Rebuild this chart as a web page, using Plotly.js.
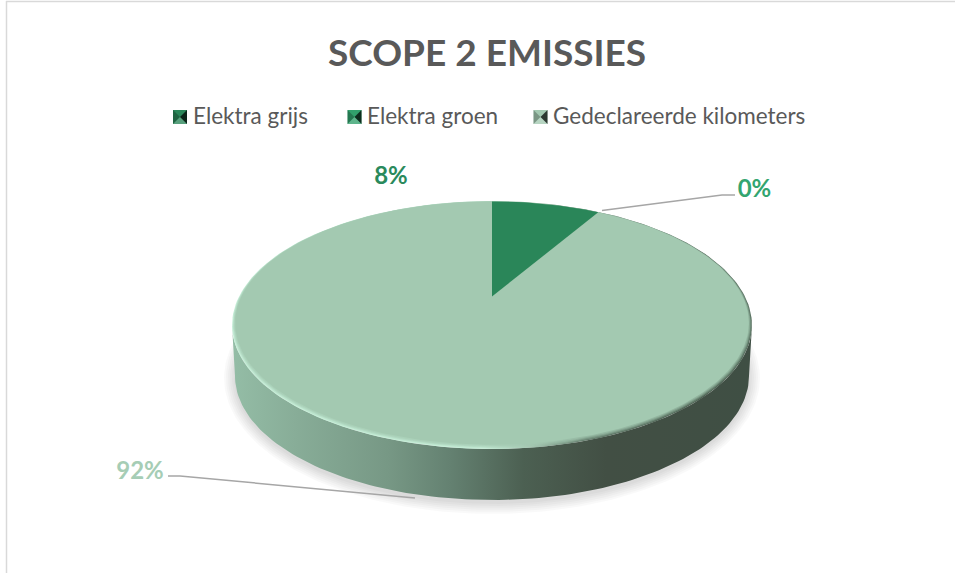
<!DOCTYPE html>
<html><head><meta charset="utf-8">
<script src="https://cdn.plot.ly/plotly-3.0.1.min.js"></script>
<style>html,body{margin:0;padding:0;background:#fff}#c{width:955px;height:573px}</style>
</head><body><div id="c"></div>
<script>
const categories = ["Elektra grijs", "Elektra groen", "Gedeclareerde kilometers"];
const shares = [8.4, 0, 91.6];
const sliceColors = ["#2a8659", "#31a06c", "#a3c9b1"];
const labelColors = ["#2a8a5c", "#33a56f", "#a6cdb5"];
const titleText = "SCOPE 2 EMISSIES";
const FONT = "Lato, Carlito, Calibri, sans-serif";

// Tilted disc: perspective projection of a unit circle
const CX = 492, CY = 325, RY = 124, K = -0.218, CS = -27, AX = 253.7;
function project(theta, sx, sy, dy) {
  const u = Math.sin(theta), v = -Math.cos(theta);
  const w = 1 + K * v;
  return [CX + sx * AX * u / w, CY + dy + sy * (RY * v + CS) / w];
}
function ring(sx, sy, dy) {
  const xs = [], ys = [];
  for (let i = 0; i <= 240; i++) {
    const p = project(i / 240 * 2 * Math.PI, sx, sy, dy);
    xs.push(p[0]); ys.push(p[1]);
  }
  return {x: xs, y: ys};
}
function ellipse(cx, cy, rx, ry) {
  const xs = [], ys = [];
  for (let i = 0; i <= 240; i++) {
    const t = i / 240 * 2 * Math.PI;
    xs.push(cx + rx * Math.cos(t)); ys.push(cy + ry * Math.sin(t));
  }
  return {x: xs, y: ys};
}
const fillTrace = (g, color, name) => ({
  x: g.x, y: g.y, mode: "lines", fill: "toself", fillcolor: color,
  line: {width: 0, color: "rgba(0,0,0,0)"}, hoverinfo: "skip", showlegend: false, name: name || ""
});

const traces = [];

// soft shadow
[11, 9, 7, 5, 3, 1].forEach(k => traces.push(fillTrace(ellipse(492, 378, 257 + k, 125 + k), "rgba(0,0,0,0.022)", "shadow")));

// side wall with horizontal light falloff
(function () {
  const xs = [], ys = [];
  for (let i = 0; i <= 120; i++) {
    const t = Math.PI - i / 120 * Math.PI;
    xs.push(492 + 260 * Math.cos(t)); ys.push(325 + 124 * Math.sin(t));
  }
  for (let i = 0; i <= 120; i++) {
    const t = i / 120 * Math.PI;
    xs.push(492 + 257 * Math.cos(t)); ys.push(376 + 124 * Math.sin(t));
  }
  const tr = fillTrace({x: xs, y: ys}, "#6d8c7b", "side");
  tr.fillgradient = {type: "horizontal", colorscale: [
    [0, "#94bda6"], [0.12, "#88ad98"], [0.3, "#779885"], [0.42, "#648171"],
    [0.56, "#4c6052"], [0.72, "#424f44"], [1, "#3f4f44"]]};
  traces.push(tr);
})();

// bevel on the rim of the top face
(function () {
  const tr = fillTrace(ring(1, 1, 0), "#bfe5cf", "rim");
  tr.fillgradient = {type: "horizontal", colorscale: [
    [0, "#c6eed8"], [0.48, "#c6eed8"], [0.58, "#a3c4b0"], [0.68, "#647d6d"], [0.9, "#4a5e50"], [1, "#566e5e"]]};
  traces.push(tr);
})();
traces.push(fillTrace(ring(0.997, 0.996, -0.5), "rgba(163,201,177,0.3)", "rim"));
traces.push(fillTrace(ring(0.994, 0.991, -1), "rgba(163,201,177,0.4)", "rim"));
traces.push(fillTrace(ring(0.991, 0.986, -1.5), "rgba(163,201,177,0.5)", "rim"));

// slices, drawn from the shares
const SX = 0.988, SY = 0.981, DY = -2;
(function () {
  const total = shares.reduce((a, b) => a + b, 0);
  const order = [2, 0, 1];
  const start = []; let acc = 0;
  shares.forEach((s, i) => { start[i] = acc; acc += s; });
  order.forEach(i => {
    const a0 = start[i] / total * 2 * Math.PI, a1 = (start[i] + shares[i]) / total * 2 * Math.PI;
    const c = [CX, CY + DY + SY * CS];
    const xs = [c[0]], ys = [c[1]];
    const n = Math.max(2, Math.ceil(shares[i] * 4));
    for (let k = 0; k <= n; k++) {
      const p = project(a0 + (a1 - a0) * k / n, SX, SY, DY);
      xs.push(p[0]); ys.push(p[1]);
    }
    xs.push(c[0]); ys.push(c[1]);
    traces.push(fillTrace({x: xs, y: ys}, sliceColors[i], categories[i]));
  });
})();

// leader lines
const leader = (x, y) => ({x, y, mode: "lines", line: {color: "#a6a6a6", width: 1.5}, hoverinfo: "skip", showlegend: false});
traces.push(leader([602, 722, 735], [210.5, 195, 195]));
traces.push(leader([168, 180, 415], [476, 476, 498]));

// data labels
const labelPos = [[391, 178], [754.5, 191], [140, 473]];
shares.forEach((s, i) => traces.push({
  x: [labelPos[i][0]], y: [labelPos[i][1]], mode: "text", text: [Math.round(s) + "%"], textposition: "middle center",
  textfont: {family: FONT, size: 24, color: labelColors[i], weight: 700}, hoverinfo: "skip", showlegend: false
}));

// legend entries
const legendX = [180, 354.5, 540.5];
const legendTextX = [193, 367, 553];
const legendY = 117;
categories.forEach((c, i) => {
  traces.push({x: [legendX[i]], y: [legendY], mode: "markers", name: c,
    marker: {symbol: "square", size: 14, color: sliceColors[i], line: {width: 0}}, hoverinfo: "skip", showlegend: false});
  traces.push({x: [legendTextX[i]], y: [legendY + 1.5], mode: "text", text: [c], textposition: "middle right",
    textfont: {family: FONT, size: 22.5, color: "#595959"}, hoverinfo: "skip", showlegend: false});
});

// pyramid shading of the legend keys
const shapes = [
  {type: "line", xref: "x", yref: "y", x0: 6.5, x1: 6.5, y0: 1, y1: 573, line: {color: "#d9d9d9", width: 1.5}, layer: "below"},
  {type: "line", xref: "x", yref: "y", x0: 6, x1: 955, y0: 1.5, y1: 1.5, line: {color: "#d9d9d9", width: 1.5}, layer: "below"}
];
legendX.forEach((x, i) => {
  const h = 7, y = legendY;
  const tri = (a, b, color) => shapes.push({type: "path", xref: "x", yref: "y", layer: "above", line: {width: 0},
    fillcolor: color, path: `M${x + a[0] * h},${y + a[1] * h} L${x + b[0] * h},${y + b[1] * h} L${x},${y} Z`});
  tri([-1, -1], [-1, 1], "rgba(0,0,0,0.25)");
  tri([1, -1], [1, 1], "rgba(0,0,0,0.72)");
  tri([-1, 1], [1, 1], "rgba(255,255,255,0.22)");
});

const layout = {
  width: 955, height: 573, margin: {l: 0, r: 0, t: 0, b: 0, pad: 0},
  paper_bgcolor: "#fff", plot_bgcolor: "rgba(0,0,0,0)", showlegend: false, hovermode: false,
  xaxis: {range: [0, 955], visible: false, fixedrange: true},
  yaxis: {range: [573, 0], visible: false, fixedrange: true},
  shapes,
  annotations: [{text: "<b>" + titleText + "</b>", xref: "x", yref: "y", x: 487, y: 51.5, showarrow: false,
    xanchor: "center", yanchor: "middle", font: {family: FONT, size: 37, color: "#595959"}}]
};
Plotly.newPlot("c", traces, layout, {displayModeBar: false, staticPlot: true});
</script></body></html>
